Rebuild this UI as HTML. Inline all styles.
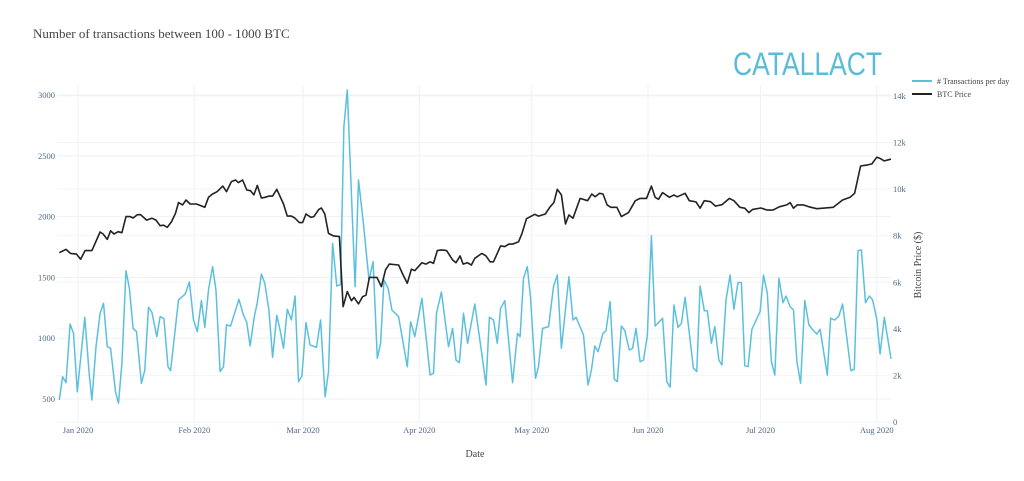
<!DOCTYPE html>
<html><head><meta charset="utf-8">
<style>
html,body{margin:0;padding:0;background:#fff;}
svg{display:block;font-family:"Liberation Serif",serif;}
</style></head>
<body>
<svg id="chart" width="1024" height="481" viewBox="0 0 1024 481" xmlns="http://www.w3.org/2000/svg">
<text x="33" y="38" font-size="13" fill="#444">Number of transactions between 100 - 1000 BTC</text>
<text x="733" y="75" font-family="Liberation Sans, sans-serif" font-size="32" fill="#5bbcd9" textLength="149" lengthAdjust="spacingAndGlyphs">CATALLACT</text>
<g id="grid"></g>
<g id="axes"></g>
<g id="series"></g>
<g>
<line x1="912" y1="81" x2="932" y2="81" stroke="#5bc0de" stroke-width="2"/>
<text x="937" y="84" font-size="8" fill="#444"># Transactions per day</text>
<line x1="912" y1="94" x2="932" y2="94" stroke="#222" stroke-width="2"/>
<text x="937" y="97" font-size="8" fill="#444">BTC Price</text>
</g>
<text x="475" y="457" font-size="10" fill="#444" text-anchor="middle">Date</text>
<text transform="translate(921,265) rotate(-90)" font-size="10" fill="#444" text-anchor="middle">Bitcoin Price ($)</text>
</svg>
<script>
const txDays=[-5,-4.1,-3.2,-2.1,-1.2,-0.2,1.8,3,3.7,4.8,5.9,6.8,7.8,8.7,10,10.8,11.7,12.8,13.7,14.7,15.6,16.9,17.8,18.8,19.7,21,21.9,22.9,24,24.7,26.8,28.6,29.7,30.8,31.8,32.9,33.8,34.8,35.9,36.8,37.9,38.8,39.6,40.7,42.9,44.1,45,45.9,47,47.8,48.9,49.8,50.9,51.9,53,53.9,54.8,55.8,56.9,57.9,58.8,59.7,60.8,61.9,63.6,64.7,65.9,66.8,67.9,69,70,70.9,71.8,73.9,74.8,76.1,77.6,78.7,79.8,80.7,81.6,82.7,83.7,85.5,87.8,88.7,89.8,91.7,93.9,94.8,95.6,96.9,98.8,99.9,100.8,101.7,102.8,103.9,105.8,107.6,108.8,109.7,110.8,111.8,112.7,113.8,115.9,117.2,117.9,118.8,119.8,120.7,122,122.8,123.9,125.5,126.8,127.8,128.9,130.9,132,132.8,134.8,136,136.9,137.8,138.7,140,140.8,141.9,143,143.8,144.9,145.8,147,147.9,148.8,149.9,150.8,151.8,152.9,153.9,155.9,157,157.9,158.9,160,160.9,161.9,164.1,165,165.9,167,167.8,168.9,169.8,170.9,171.7,172.8,173.9,174.9,176,176.9,177.8,178.7,179.7,181.9,182.8,183.8,184.9,185.8,186.9,188,188.8,189.9,190.8,191.7,192.7,193.8,194.9,196,197,197.9,199.8,200.7,201.8,202.9,203.9,206.1,207,208,208.9,210,211,211.9,213,213.9,215,216.8];
const txValues=[492,683,634,1117,1040,560,1172,697,492,930,1205,1287,930,917,560,465,793,1555,1410,1081,1054,629,738,1254,1213,1013,1177,1161,766,733,1315,1364,1462,1150,1054,1309,1090,1397,1589,1392,725,766,1109,1100,1320,1191,1128,936,1177,1292,1528,1451,1232,843,1188,1067,917,1238,1150,1347,642,689,1128,944,925,1150,519,725,1780,1429,1440,2740,3041,1424,2301,1945,1479,1630,835,959,1479,1410,1232,1177,766,1136,1013,1328,697,711,1205,1380,930,1081,820,799,1205,959,1281,889,615,1172,1150,959,1246,1309,634,1040,1013,1493,1589,1328,670,766,1081,1095,1424,1520,917,1506,1150,1172,1026,615,738,936,889,1040,1062,1301,662,642,1100,1062,903,917,1081,807,820,1018,1841,1100,1164,642,597,1273,1090,1122,1336,753,725,1429,1226,1226,959,1095,820,780,1315,1520,1238,1458,1458,773,766,1073,1219,1520,1369,807,697,1493,1292,1347,1260,1232,807,629,1309,1109,1067,1034,1073,697,1164,1150,1183,1281,733,744,1720,1725,1292,1347,1315,1156,870,1172,830];
const priceDays=[-5,-3.2,-2,-0.4,0.7,1.9,3.7,5.9,6.7,7.8,8.7,9.6,10.7,11.7,12.8,13.9,14.7,15.8,16.7,18.3,19.7,20.8,21.9,22.8,23.8,24.9,26,26.8,27.9,28.8,29.9,31.6,33.8,34.8,35.9,37.1,38.6,39.6,40.9,42,42.8,43.9,45,46,46.9,47.8,48.9,49.9,50.9,51.9,53,54.8,55.8,56.9,57.8,59,59.9,60.8,62.1,62.9,64.2,64.9,65.8,66.8,68.1,69.7,70.7,71.8,72.9,73.6,74.8,75.9,76.8,77.7,79.7,80.9,82,83,85.5,86.7,87.8,88.9,89.8,91.7,92.8,93.9,94.8,95.8,96.9,98.3,99.9,100.8,101.9,102.7,103.8,104.9,105.8,107.7,108.8,109.9,110.8,112.7,113.8,114.9,115.9,117.5,118.4,119.6,121.8,122.8,124.6,125.9,126.9,127.8,128.9,130,130.9,132,133.9,135.9,137,137.9,139.1,140,141.1,142.1,143.7,144.9,146.8,148.6,149.9,151.6,152.9,153.9,154.8,155.9,157.7,158.9,159.8,161.9,163,164.8,165.9,167,168.7,170,171.7,173.7,174.9,176.5,177.8,178.9,179.9,182.1,183.8,185.3,187,189,189.9,190.8,191.8,193.4,194.9,197,201.4,203.9,205.9,207.1,208.7,210.3,211.7,213,213.9,215,216.8];
const priceValues=[7.27,7.41,7.24,7.21,6.99,7.36,7.36,8.16,8.07,7.84,8.21,8.07,8.17,8.13,8.82,8.82,8.76,8.9,8.9,8.67,8.75,8.67,8.43,8.45,8.36,8.59,8.96,9.42,9.32,9.53,9.36,9.36,9.22,9.65,9.79,9.89,10.13,9.89,10.32,10.39,10.28,10.39,9.96,9.93,9.75,10.16,9.62,9.65,9.7,9.7,9.99,9.36,8.84,8.84,8.76,8.56,8.56,8.93,8.79,8.82,9.13,9.19,8.93,8.1,7.99,7.96,4.95,5.6,5.21,5.35,5.07,5.38,5.45,6.21,6.21,5.81,6.53,6.78,6.74,6.31,5.96,6.56,6.5,6.84,6.78,6.88,6.81,7.36,7.39,7.36,6.96,6.84,7.13,6.78,6.84,6.74,7.03,7.24,7.13,6.88,6.88,7.56,7.53,7.64,7.64,7.74,8.1,8.73,8.92,8.84,8.93,9.24,9.42,9.99,9.75,8.5,8.89,8.75,9.6,9.5,9.79,9.67,9.82,9.79,9.32,9.22,9.22,8.82,8.99,9.5,9.6,9.6,10.13,9.65,9.56,9.85,9.65,9.75,9.67,9.82,9.5,9.45,9.18,9.5,9.46,9.27,9.33,9.6,9.5,9.22,9.18,8.99,9.13,9.19,9.1,9.1,9.24,9.32,9.42,9.18,9.32,9.32,9.24,9.16,9.22,9.53,9.65,9.82,10.99,11.03,11.08,11.37,11.32,11.21,11.29];
const monthDays=[0,31,60,91,121,152,182,213];
const monthLabels=["Jan 2020","Feb 2020","Mar 2020","Apr 2020","May 2020","Jun 2020","Jul 2020","Aug 2020"];
const leftTicks=[500,1000,1500,2000,2500,3000];
const rightTicks=[0,2,4,6,8,10,12,14];
const rightTickLabels=["0","2k","4k","6k","8k","10k","12k","14k"];

const NS="http://www.w3.org/2000/svg";
const X0=57,X1=891,Y0=85,Y1=422;
function xs(d){return 78+d*3.75;}
function yl(v){return 95+(3000-v)*0.1216;}
function yr(k){return 422-k*23.29;}
function mk(tag,attrs,parent){const e=document.createElementNS(NS,tag);for(const k in attrs)e.setAttribute(k,attrs[k]);parent.appendChild(e);return e;}
const grid=document.getElementById('grid'),axes=document.getElementById('axes'),series=document.getElementById('series');
monthDays.forEach((d,i)=>{
  const l=mk('line',{x1:xs(d),x2:xs(d),y1:Y0,y2:Y1,stroke:'#eef1f5','stroke-width':1},grid);
  
  
  const t=mk('text',{x:xs(d),y:433,'font-size':8.5,fill:'#506784','text-anchor':'middle'},axes);
  t.textContent=monthLabels[i];
  
  
});
leftTicks.forEach(v=>{
  const l=mk('line',{x1:X0,x2:X1,y1:yl(v),y2:yl(v),stroke:'#eef1f5','stroke-width':1},grid);
  
  
  const t=mk('text',{x:55,y:yl(v)+3,'font-size':8.5,fill:'#506784','text-anchor':'end'},axes);
  t.textContent=String(v);
  
  
});
rightTicks.forEach((k,i)=>{
  const l=mk('line',{x1:X0,x2:X1,y1:yr(k),y2:yr(k),stroke:'#f3f4f7','stroke-width':1},grid);
  
  
  const t=mk('text',{x:893,y:yr(k)+3,'font-size':8.5,fill:'#506784'},axes);
  t.textContent=rightTickLabels[i];
  
  
});
const tx=mk('polyline',{points:txDays.map((d,i)=>xs(d).toFixed(1)+','+yl(txValues[i]).toFixed(1)).join(' '),fill:'none',stroke:'#5bc0de','stroke-width':1.5,'stroke-linejoin':'round'},series);


const pr=mk('polyline',{points:priceDays.map((d,i)=>xs(d).toFixed(1)+','+yr(priceValues[i]).toFixed(1)).join(' '),fill:'none',stroke:'#222','stroke-width':1.6,'stroke-linejoin':'round'},series);


</script>
</body></html>
